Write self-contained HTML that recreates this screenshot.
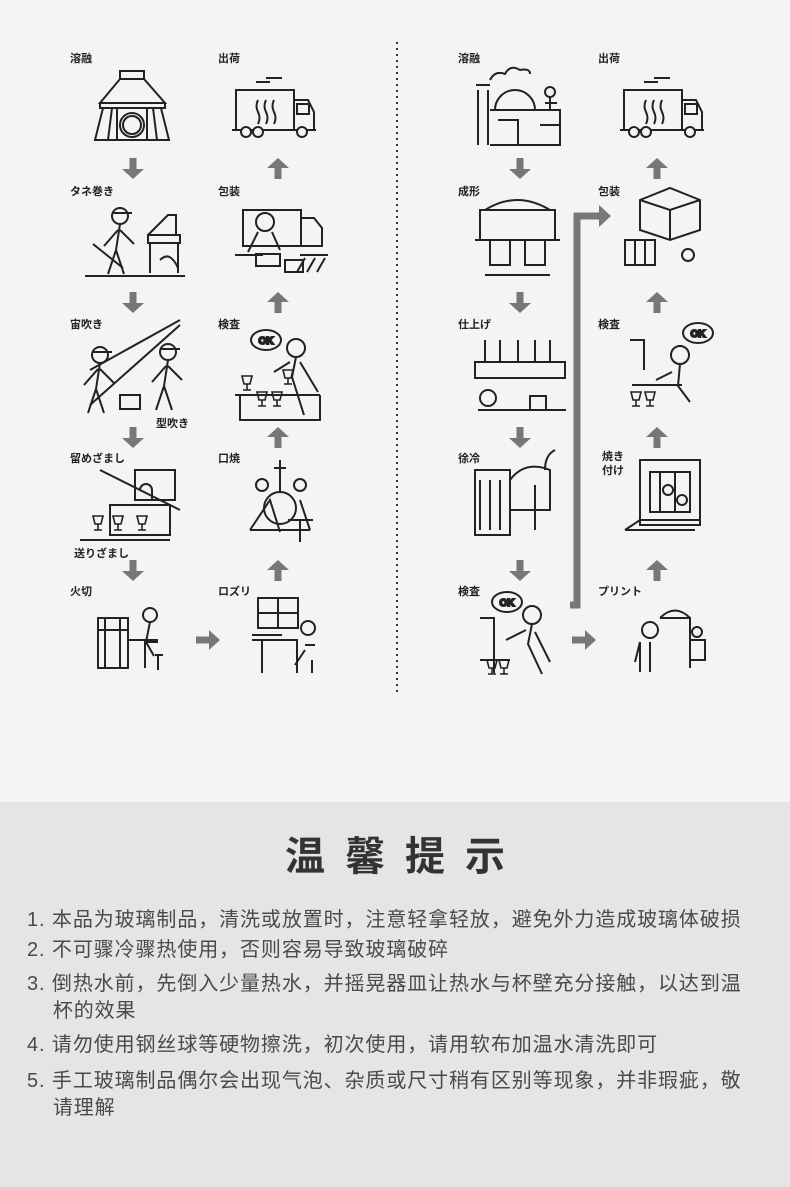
<!DOCTYPE html>
<html><head><meta charset="utf-8"><style>
body{margin:0;width:790px;height:1187px;background:#f4f4f4;font-family:"Liberation Sans","Noto Sans CJK SC",sans-serif;position:relative;overflow:hidden}
.l{position:absolute;font-size:11px;font-weight:bold;color:#222;font-family:"Liberation Sans","Noto Sans CJK JP",sans-serif}
svg{position:absolute;left:0;top:0}
#bot{position:absolute;left:0;top:802px;width:790px;height:385px;background:#e5e5e5}
h1{position:absolute;top:824px;left:10px;width:790px;text-align:center;margin:0;font-size:40px;letter-spacing:20px;color:#333;font-weight:bold;font-family:"Liberation Sans","Noto Sans CJK SC",sans-serif}
.t{position:absolute;left:27px;font-size:20px;letter-spacing:0.9px;color:#4a4a4a;line-height:27px;width:750px}
</style></head><body>
<div id="bot"></div>
<svg width="790" height="800" viewBox="0 0 790 800">
<defs>
<g id="da"><rect x="-3.5" y="0" width="7" height="12" fill="#777"/><path d="M-11 11h22l-11 10z" fill="#777"/></g>
<g id="ua"><path d="M-11 10h22l-11-10z" fill="#777"/><rect x="-3.5" y="9" width="7" height="12" fill="#777"/></g>
<g id="ra"><rect x="0" y="-3.5" width="14" height="7" fill="#777"/><path d="M13 -10v20l11-10z" fill="#777"/></g>
<g id="truck" fill="none" stroke="#222" stroke-width="2"><rect x="0" y="10" width="58" height="40"/><path d="M58 20h14l6 12v18h-20"/><rect x="61" y="24" width="12" height="10"/><path d="M-4 50h84"/><circle cx="10" cy="52" r="5" fill="#f4f4f4"/><circle cx="22" cy="52" r="5" fill="#f4f4f4"/><circle cx="66" cy="52" r="5" fill="#f4f4f4"/><path d="M22 20q-3 6 0 12t0 12M30 20q-3 6 0 12t0 12M38 20q-3 6 0 12t0 12M20 2h14M30 -2h16"/></g>
<g id="person" fill="none" stroke="#222" stroke-width="2"><circle cx="0" cy="0" r="8"/><path d="M-8 -3h20M0 8l-4 26l-8 24M-4 34l8 24M-2 14l-14 16M0 14l14 14"/></g>
<g id="ok"><ellipse cx="0" cy="0" rx="15" ry="10" fill="#f4f4f4" stroke="#222" stroke-width="2"/><text x="0" y="4" font-size="10" font-weight="bold" text-anchor="middle" font-family="Liberation Sans">OK</text></g>
<g id="glass" fill="none" stroke="#222" stroke-width="1.6"><path d="M-5 0h10l-2 8h-6zM0 8v6M-4 14h8"/></g>
</defs>
<line x1="397" y1="42" x2="397" y2="692" stroke="#333" stroke-width="2" stroke-dasharray="2 4"/>
<g fill="none" stroke="#222" stroke-width="2">
<rect x="120" y="71" width="24" height="8"/><path d="M100 103l20-24h24l21 24zM100 103h65v5h-65zM103 108l-8 32h74l-8-32M112 108l-4 32M153 108l4 32M117 108v32M147 108v32"/><circle cx="132" cy="125" r="12"/><circle cx="132" cy="125" r="9"/>
<use href="#person" x="120" y="216"/><path d="M93 244l30 24M148 235h32v8h-32zM150 243v30M178 243v30M148 235l20-20h8v20M160 260q10-10 18 8M85 276h100"/>
<path d="M90 370l90-50M90 405l90-80"/><use href="#person" x="100" y="355"/><use href="#person" x="168" y="352"/><rect x="120" y="395" width="20" height="14"/>
<path d="M100 470l80 40M80 540h90M135 470h40v30h-40zM140 490a6 6 0 0112 0v10M110 505h60v30h-60z"/><use href="#glass" x="98" y="516"/><use href="#glass" x="118" y="516"/><use href="#glass" x="142" y="516"/>
<path d="M98 618h30v50h-30zM98 630h30M105 618v50M120 618v50M128 640h30M145 668v-28"/><circle cx="150" cy="615" r="7"/><path d="M150 622l-4 20h12M146 642l8 14M155 655h8M158 655v15"/>
</g>
<use href="#truck" x="236" y="80"/>
<g fill="none" stroke="#222" stroke-width="2">
<rect x="243" y="210" width="58" height="36"/><path d="M300 218h14l8 10v18h-22M235 255h28M300 255h28M305 258l-8 14M315 258l-8 14M325 258l-8 14"/><circle cx="265" cy="222" r="9"/><path d="M258 232l-10 20M272 232l8 18"/><rect x="256" y="254" width="24" height="12"/><rect x="285" y="260" width="18" height="12"/>
<use href="#ok" x="266" y="340"/><circle cx="296" cy="348" r="9"/><path d="M296 357l-4 20l12 38M290 362l-16 10M300 362l18 30M235 395h85M240 395v25h80v-25"/><use href="#glass" x="247" y="376"/><use href="#glass" x="262" y="392"/><use href="#glass" x="277" y="392"/><use href="#glass" x="288" y="370"/>
<circle cx="280" cy="508" r="16"/><path d="M280 460v32M274 468h12M250 530l20-30l10 32M310 530l-10-30M288 520h25M300 520v22M250 530h60"/><circle cx="262" cy="485" r="6"/><circle cx="300" cy="485" r="6"/>
<rect x="258" y="598" width="40" height="30"/><path d="M258 613h40M278 598v30M252 640h45v33M262 640v33M252 635h30M305 650l-10 15M305 645h10M312 660v13"/><circle cx="308" cy="628" r="7"/>
</g>
<use href="#da" x="133" y="158"/><use href="#da" x="133" y="292"/><use href="#da" x="133" y="427"/><use href="#da" x="133" y="560"/>
<use href="#ua" x="278" y="158"/><use href="#ua" x="278" y="292"/><use href="#ua" x="278" y="427"/><use href="#ua" x="278" y="560"/>
<use href="#ra" x="196" y="640"/>
<g fill="none" stroke="#222" stroke-width="2">
<path d="M478 90v55M488 90v55M476 85h14M490 110h70v35h-70M495 110a20 20 0 0140 0M498 120h20v25M540 125h20M490 80q5-10 15-6q5-10 15-4q10-2 10 4"/><circle cx="550" cy="92" r="5"/><path d="M550 97v14M545 103h12"/>
<path d="M480 210h75v30h-75zM475 240h85M485 210q32-20 65 0M490 240v25h20v-25M525 240v25h20v-25M485 275h65"/>
<path d="M475 362h90v16h-90zM485 340v22M500 340v22M518 340v22M535 340v22M550 340v22M478 410h88"/><circle cx="488" cy="398" r="8"/><rect x="530" y="396" width="16" height="14"/>
<path d="M475 470h35v65h-35zM480 480v50M490 480v50M500 480v50M510 480q15-20 40-10v40h-40M535 485v45M545 470q0-15 10-20"/>
<use href="#ok" x="507" y="602"/><circle cx="532" cy="615" r="9"/><path d="M532 624l-4 20l14 30M526 630l-20 10M535 632l15 30M480 618h14v55M480 660h30"/><use href="#glass" x="492" y="660"/><use href="#glass" x="504" y="660"/>
</g>
<g fill="none" stroke="#222" stroke-width="2">
<use href="#truck" x="624" y="80"/>
<path d="M640 200l30-12l30 12v30l-30 10l-30-10zM640 200l30 10l30-10M670 210v30M625 240h30v25h-30zM635 240v25M645 240v25"/><circle cx="688" cy="255" r="6"/>
<use href="#ok" x="698" y="333"/><circle cx="680" cy="355" r="9"/><path d="M680 364l-2 22l12 16M672 372l-16 8M630 340h14v30M632 385h50"/><use href="#glass" x="636" y="392"/><use href="#glass" x="650" y="392"/>
<path d="M640 460h60v65h-60zM650 472h40v40h-40zM660 472v40M675 472v40M625 530l15-10h60M625 530h70"/><circle cx="668" cy="490" r="5"/><circle cx="682" cy="500" r="5"/>
<path d="M660 618h30v50M660 618q15-15 30 0M640 642v30M650 642v30M640 642l-5 20M690 640h15v20h-15"/><circle cx="650" cy="630" r="8"/><circle cx="697" cy="632" r="5"/>
</g>
<use href="#da" x="520" y="158"/><use href="#da" x="520" y="292"/><use href="#da" x="520" y="427"/><use href="#da" x="520" y="560"/>
<use href="#ua" x="657" y="158"/><use href="#ua" x="657" y="292"/><use href="#ua" x="657" y="427"/><use href="#ua" x="657" y="560"/>
<use href="#ra" x="572" y="640"/>
<path d="M570 605h7V216h24" fill="none" stroke="#777" stroke-width="7"/><path d="M599 205v22l12-11z" fill="#777"/>
</svg>
<div class="l" style="left:70px;top:50px">溶融</div>
<div class="l" style="left:218px;top:50px">出荷</div>
<div class="l" style="left:70px;top:183px">タネ巻き</div>
<div class="l" style="left:218px;top:183px">包装</div>
<div class="l" style="left:70px;top:316px">宙吹き</div>
<div class="l" style="left:218px;top:316px">検査</div>
<div class="l" style="left:156px;top:415px">型吹き</div>
<div class="l" style="left:70px;top:450px">留めざまし</div>
<div class="l" style="left:218px;top:450px">口焼</div>
<div class="l" style="left:74px;top:545px">送りざまし</div>
<div class="l" style="left:70px;top:583px">火切</div>
<div class="l" style="left:218px;top:583px">ロズリ</div>
<div class="l" style="left:458px;top:50px">溶融</div>
<div class="l" style="left:598px;top:50px">出荷</div>
<div class="l" style="left:458px;top:183px">成形</div>
<div class="l" style="left:598px;top:183px">包装</div>
<div class="l" style="left:458px;top:316px">仕上げ</div>
<div class="l" style="left:598px;top:316px">検査</div>
<div class="l" style="left:458px;top:450px">徐冷</div>
<div class="l" style="left:602px;top:450px;line-height:14px">焼き<br>付け</div>
<div class="l" style="left:458px;top:583px">検査</div>
<div class="l" style="left:598px;top:583px">プリント</div>
<h1>温馨提示</h1>
<div class="t" style="top:907px">1. 本品为玻璃制品，清洗或放置时，注意轻拿轻放，避免外力造成玻璃体破损</div>
<div class="t" style="top:937px">2. 不可骤冷骤热使用，否则容易导致玻璃破碎</div>
<div class="t" style="top:971px">3. 倒热水前，先倒入少量热水，并摇晃器皿让热水与杯壁充分接触，以达到温<br>&nbsp;&nbsp;&nbsp;&nbsp;杯的效果</div>
<div class="t" style="top:1032px">4. 请勿使用钢丝球等硬物擦洗，初次使用，请用软布加温水清洗即可</div>
<div class="t" style="top:1068px">5. 手工玻璃制品偶尔会出现气泡、杂质或尺寸稍有区别等现象，并非瑕疵，敬<br>&nbsp;&nbsp;&nbsp;&nbsp;请理解</div>
</body></html>
